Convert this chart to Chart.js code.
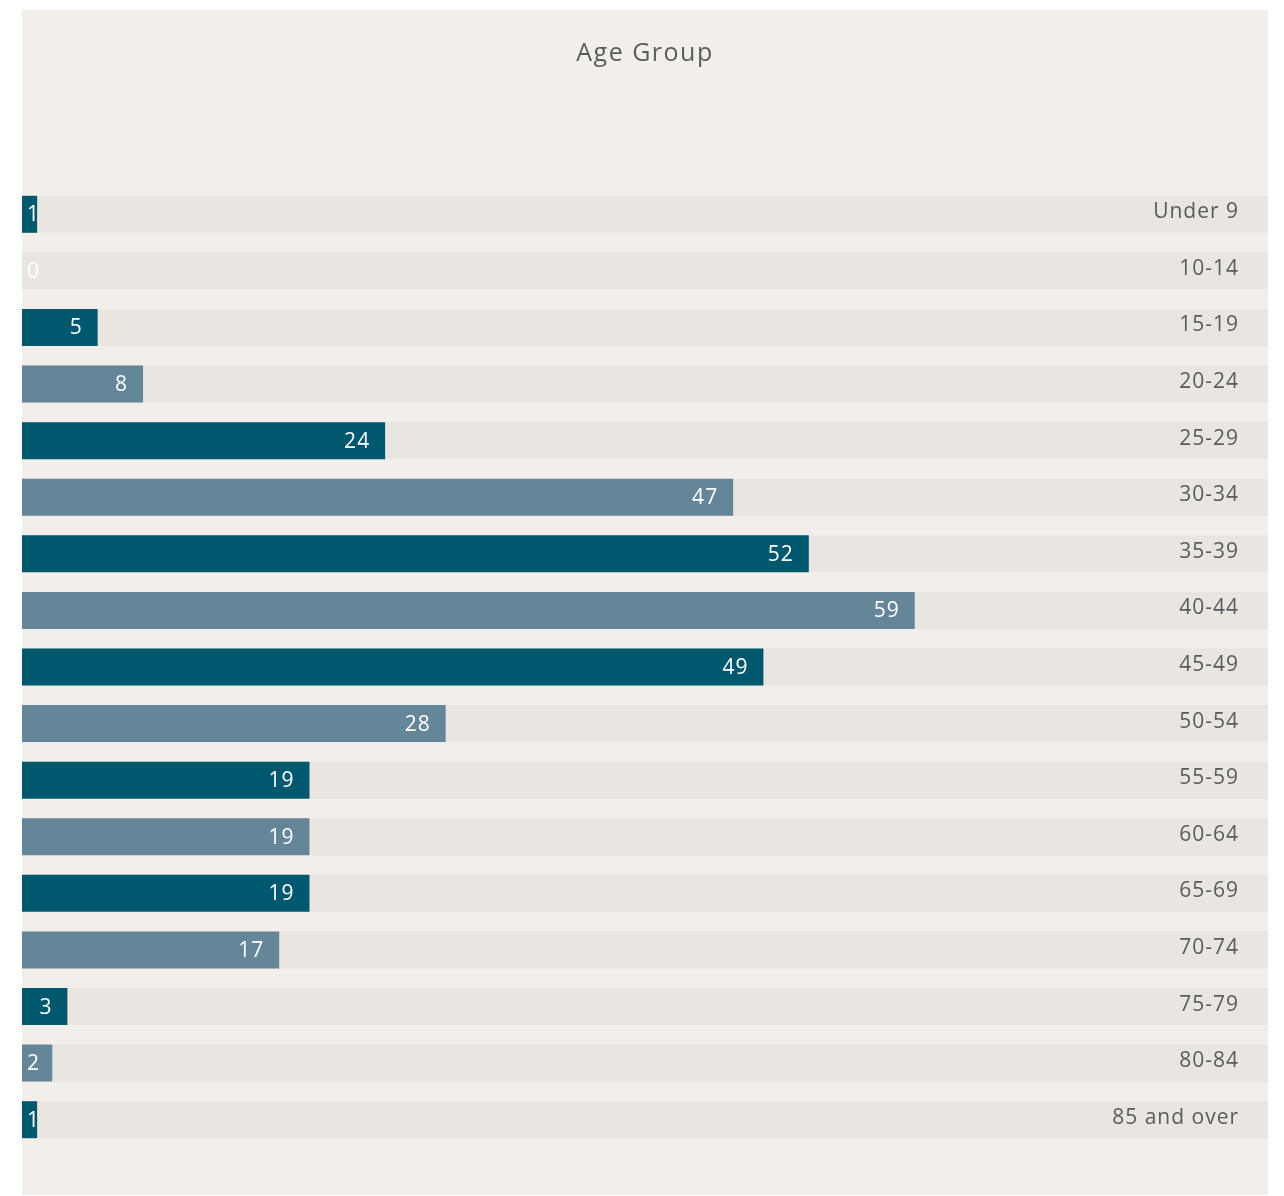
<!DOCTYPE html>
<html>
<head>
<meta charset="utf-8">
<script src="https://cdn.jsdelivr.net/npm/chart.js@4"></script>
<style>
  body { margin: 0; background: #fff; }
  #wrap { position: absolute; left: 22px; top: 10px; width: 1246px; height: 1185px; background: #f2efea; }
</style>
</head>
<body>
<div id="wrap"><canvas id="ageChart"></canvas></div>
<script>
const categories = ['Under 9', '10-14', '15-19', '20-24', '25-29', '30-34', '35-39', '40-44', '45-49',
    '50-54', '55-59', '60-64', '65-69', '70-74', '75-79', '80-84', '85 and over'];
const counts = [1, 0, 5, 8, 24, 47, 52, 59, 49, 28, 19, 19, 19, 17, 3, 2, 1];
const axisMax = 82.35;

const darkBar = '#00586e';
const lightBar = '#658599';
const trackColor = '#e9e5e0';
const textGray = '#5b5b5b';
const fontFamily = '"Open Sans", sans-serif';

// light track behind each bar, full width of the chart area
const trackPlugin = {
    id: 'tracks',
    beforeDraw(chart) {
        chart.ctx.letterSpacing = '1.5px';   // wider text, closer to the original font
    },
    beforeDatasetsDraw(chart) {
        const { ctx, chartArea } = chart;
        const meta = chart.getDatasetMeta(0);
        ctx.save();
        ctx.fillStyle = trackColor;
        meta.data.forEach(bar => {
            ctx.fillRect(chartArea.left, bar.y - bar.height / 2, chartArea.right - chartArea.left, bar.height);
        });
        ctx.restore();
    }
};

// value inside the bar end, age group at the right of the track
const labelPlugin = {
    id: 'labels',
    afterDatasetsDraw(chart) {
        const { ctx, chartArea } = chart;
        const meta = chart.getDatasetMeta(0);
        ctx.save();
        ctx.font = '21px ' + fontFamily;
        ctx.letterSpacing = '1px';
        ctx.textBaseline = 'middle';
        meta.data.forEach((bar, i) => {
            const txt = String(counts[i]);
            const w = ctx.measureText(txt).width;
            let x = bar.x - 15;
            ctx.fillStyle = '#ffffff';
            ctx.textAlign = 'right';
            if (x - w < chartArea.left + 5) {
                ctx.textAlign = 'left';
                x = chartArea.left + 5;
            }
            ctx.fillText(txt, x, bar.y + 1);

            ctx.fillStyle = textGray;
            ctx.textAlign = 'right';
            ctx.fillText(categories[i], chartArea.right - 29, bar.y - 2);
        });
        ctx.restore();
    },
    afterDraw(chart) {
        chart.ctx.letterSpacing = '0px';
    }
};

const ctx = document.getElementById('ageChart').getContext('2d');
new Chart(ctx, {
    type: 'bar',
    data: {
        labels: categories,
        datasets: [{
            data: counts,
            backgroundColor: counts.map((v, i) => i % 2 === 0 ? darkBar : lightBar),
            barPercentage: 0.654,
            categoryPercentage: 1
        }]
    },
    options: {
        indexAxis: 'y',
        responsive: true,
        maintainAspectRatio: false,
        animation: false,
        layout: { padding: { top: 0, bottom: 47, left: 0, right: 0 } },
        scales: {
            x: { display: false, min: 0, max: axisMax },
            y: { display: false }
        },
        plugins: {
            legend: { display: false },
            tooltip: { enabled: false },
            title: {
                display: true,
                text: 'Age Group',
                color: textGray,
                font: { family: fontFamily, size: 25, weight: 'normal' },
                padding: { top: 29, bottom: 117 }
            }
        }
    },
    plugins: [trackPlugin, labelPlugin]
});
</script>
</body>
</html>
